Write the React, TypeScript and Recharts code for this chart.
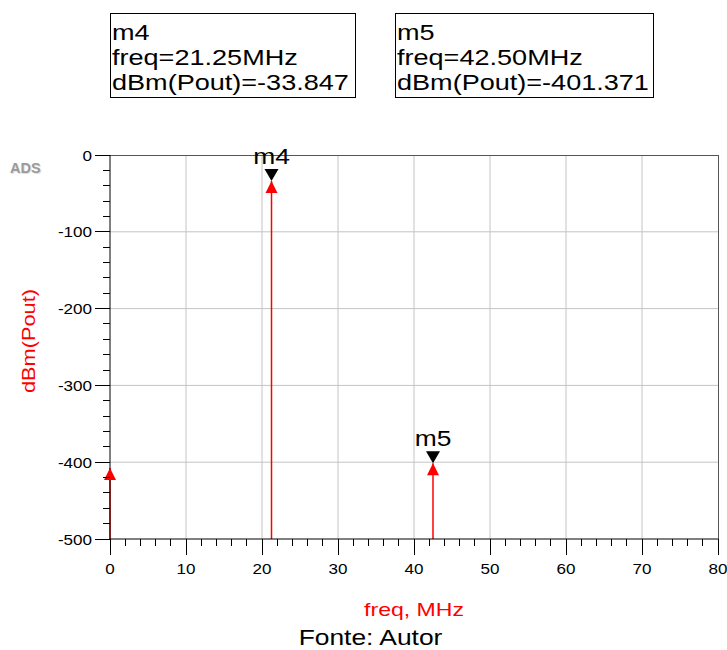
import React from 'react';
import { ComposedChart, XAxis, YAxis, CartesianGrid, Scatter, ErrorBar, ReferenceLine } from 'recharts';

// ---- data ----
const freqMajor = [0, 10, 20, 30, 40, 50, 60, 70, 80];
const dbmMajor = [0, -100, -200, -300, -400, -500];
const freqTicks = Array.from({ length: 41 }, (_, i) => i * 2);
const dbmTicks = Array.from({ length: 26 }, (_, i) => -i * 20);
const freqDomain = [0, 80];
const dbmDomain = [-500, 0];

const stemFreq = [0, 21.25, 42.5];
const stemDbm = [-407.5, -33.847, -401.371];

const markerNames = ['m4', 'm5'];
const markerFreq = [21.25, 42.5];
const markerDbm = [-33.847, -401.371];

const stemData = stemFreq.map((f, i) => ({ f, v: stemDbm[i] }));
const markerData = markerNames.map((name, i) => ({ name, f: markerFreq[i], v: markerDbm[i] }));

const FONT = '"Liberation Sans", Arial, Helvetica, sans-serif';
const RED = '#ff0000';

const stemExtent = (d: any) => [d.v - dbmDomain[0], 0];

const XTick = (props: any) => {
  const { x, y, payload } = props;
  const v = payload.value;
  const major = freqMajor.includes(v);
  return (
    <g>
      <line x1={x} x2={x} y1={y} y2={y + (major ? 16 : 7)} stroke="#000" strokeWidth={1} shapeRendering="crispEdges" />
      {major && (
        <text transform={`translate(${x},${y + 35}) scale(1.1,1)`} textAnchor="middle" fontSize={15.5} fill="#000" fontFamily={FONT}>
          {v}
        </text>
      )}
    </g>
  );
};

const YTick = (props: any) => {
  const { x, y, payload } = props;
  const v = payload.value;
  const major = dbmMajor.includes(v);
  return (
    <g>
      <line x1={x - (major ? 15 : 7)} x2={x} y1={y} y2={y} stroke="#000" strokeWidth={1} shapeRendering="crispEdges" />
      {major && (
        <text transform={`translate(${x - 18},${y + 5.5}) scale(1.1,1)`} textAnchor="end" fontSize={15.5} fill="#000" fontFamily={FONT}>
          {v}
        </text>
      )}
    </g>
  );
};

const RedTri = (props: any) => {
  const { cx, cy } = props;
  return <polygon points={`${cx},${cy} ${cx - 6},${cy + 12} ${cx + 6},${cy + 12}`} fill={RED} />;
};

const MarkerTri = (props: any) => {
  const { cx, cy, payload } = props;
  return (
    <g>
      <polygon points={`${cx},${cy} ${cx - 7},${cy - 12} ${cx + 7},${cy - 12}`} fill="#000" />
      <text transform={`translate(${cx},${cy - 17}) scale(1.2,1)`} textAnchor="middle" fontSize={22} fill="#000" fontFamily={FONT}>
        {payload.name}
      </text>
    </g>
  );
};

const XLabel = (props: any) => {
  const vb = props.viewBox || {};
  const cx = vb.x + vb.width / 2;
  return (
    <text transform={`translate(${cx},${vb.y + 77}) scale(1.24,1)`} textAnchor="middle" fontSize={18.6} fill={RED} fontFamily={FONT}>
      freq, MHz
    </text>
  );
};

const YLabel = (props: any) => {
  const vb = props.viewBox || {};
  const cy = vb.y + vb.height / 2 - 6;
  return (
    <text transform={`translate(${vb.x + 35},${cy}) rotate(-90) scale(1.17,1)`} textAnchor="middle" fontSize={18.6} fill={RED} fontFamily={FONT}>
      dBm(Pout)
    </text>
  );
};

const MarkerBox = ({ x, y, w, h, lines }: { x: number; y: number; w: number; h: number; lines: string[] }) => (
  <g>
    <rect x={x + 0.5} y={y + 0.5} width={w - 1} height={h - 1} fill="#fff" stroke="#000" strokeWidth={1} />
    {lines.map((t, i) => (
      <text key={i} transform={`translate(${x + 2},${y + 27 + i * 25}) scale(1.23,1)`} fontSize={22} fill="#000" fontFamily={FONT}>
        {t}
      </text>
    ))}
  </g>
);

export default function App() {
  return (
    <div style={{ position: 'absolute', left: 0, top: 0, width: 727, height: 650, background: '#fff' }}>
      <ComposedChart width={727} height={650} margin={{ top: 155, right: 9, bottom: 31, left: 0 }}>
        <CartesianGrid
          horizontalValues={[-100, -200, -300, -400]}
          verticalValues={[10, 20, 30, 40, 50, 60, 70]}
          stroke="#c4c4c4"
          strokeWidth={1}
        />
        <ReferenceLine y={0} stroke="#555" strokeWidth={1} shapeRendering="crispEdges" />
        <ReferenceLine x={80} stroke="#555" strokeWidth={1} shapeRendering="crispEdges" />
        <XAxis
          dataKey="f"
          type="number"
          domain={freqDomain}
          ticks={freqTicks}
          interval={0}
          tickSize={0}
          tickMargin={0}
          tickLine={false}
          tick={<XTick />}
          height={80}
          axisLine={{ stroke: '#000', strokeWidth: 1 }}
          label={<XLabel />}
        />
        <YAxis
          dataKey="v"
          type="number"
          domain={dbmDomain}
          ticks={dbmTicks}
          interval={0}
          tickSize={0}
          tickMargin={0}
          tickLine={false}
          tick={<YTick />}
          width={110}
          axisLine={{ stroke: '#000', strokeWidth: 1 }}
          label={<YLabel />}
        />
        <Scatter data={stemData} isAnimationActive={false} shape={RedTri}>
          <ErrorBar dataKey={stemExtent} direction="y" width={0} stroke={RED} strokeWidth={1.5} isAnimationActive={false} />
        </Scatter>
        <Scatter data={markerData} isAnimationActive={false} shape={MarkerTri} />
      </ComposedChart>
      <svg width={727} height={650} style={{ position: 'absolute', left: 0, top: 0, pointerEvents: 'none' }}>
        <MarkerBox x={110} y={13} w={246} h={85} lines={['m4', 'freq=21.25MHz', 'dBm(Pout)=-33.847']} />
        <MarkerBox x={395} y={13} w={259} h={85} lines={['m5', 'freq=42.50MHz', 'dBm(Pout)=-401.371']} />
        <text x={11} y={174} fontSize={14.5} fontWeight="bold" fill="#e0e0e0" fontFamily={FONT}>ADS</text>
        <text x={10} y={173} fontSize={14.5} fontWeight="bold" fill="#9a9a9a" fontFamily={FONT}>ADS</text>
        <text transform="translate(370.5,645) scale(1.2,1)" textAnchor="middle" fontSize={22} fill="#000" fontFamily={FONT}>
          Fonte: Autor
        </text>
      </svg>
    </div>
  );
}
